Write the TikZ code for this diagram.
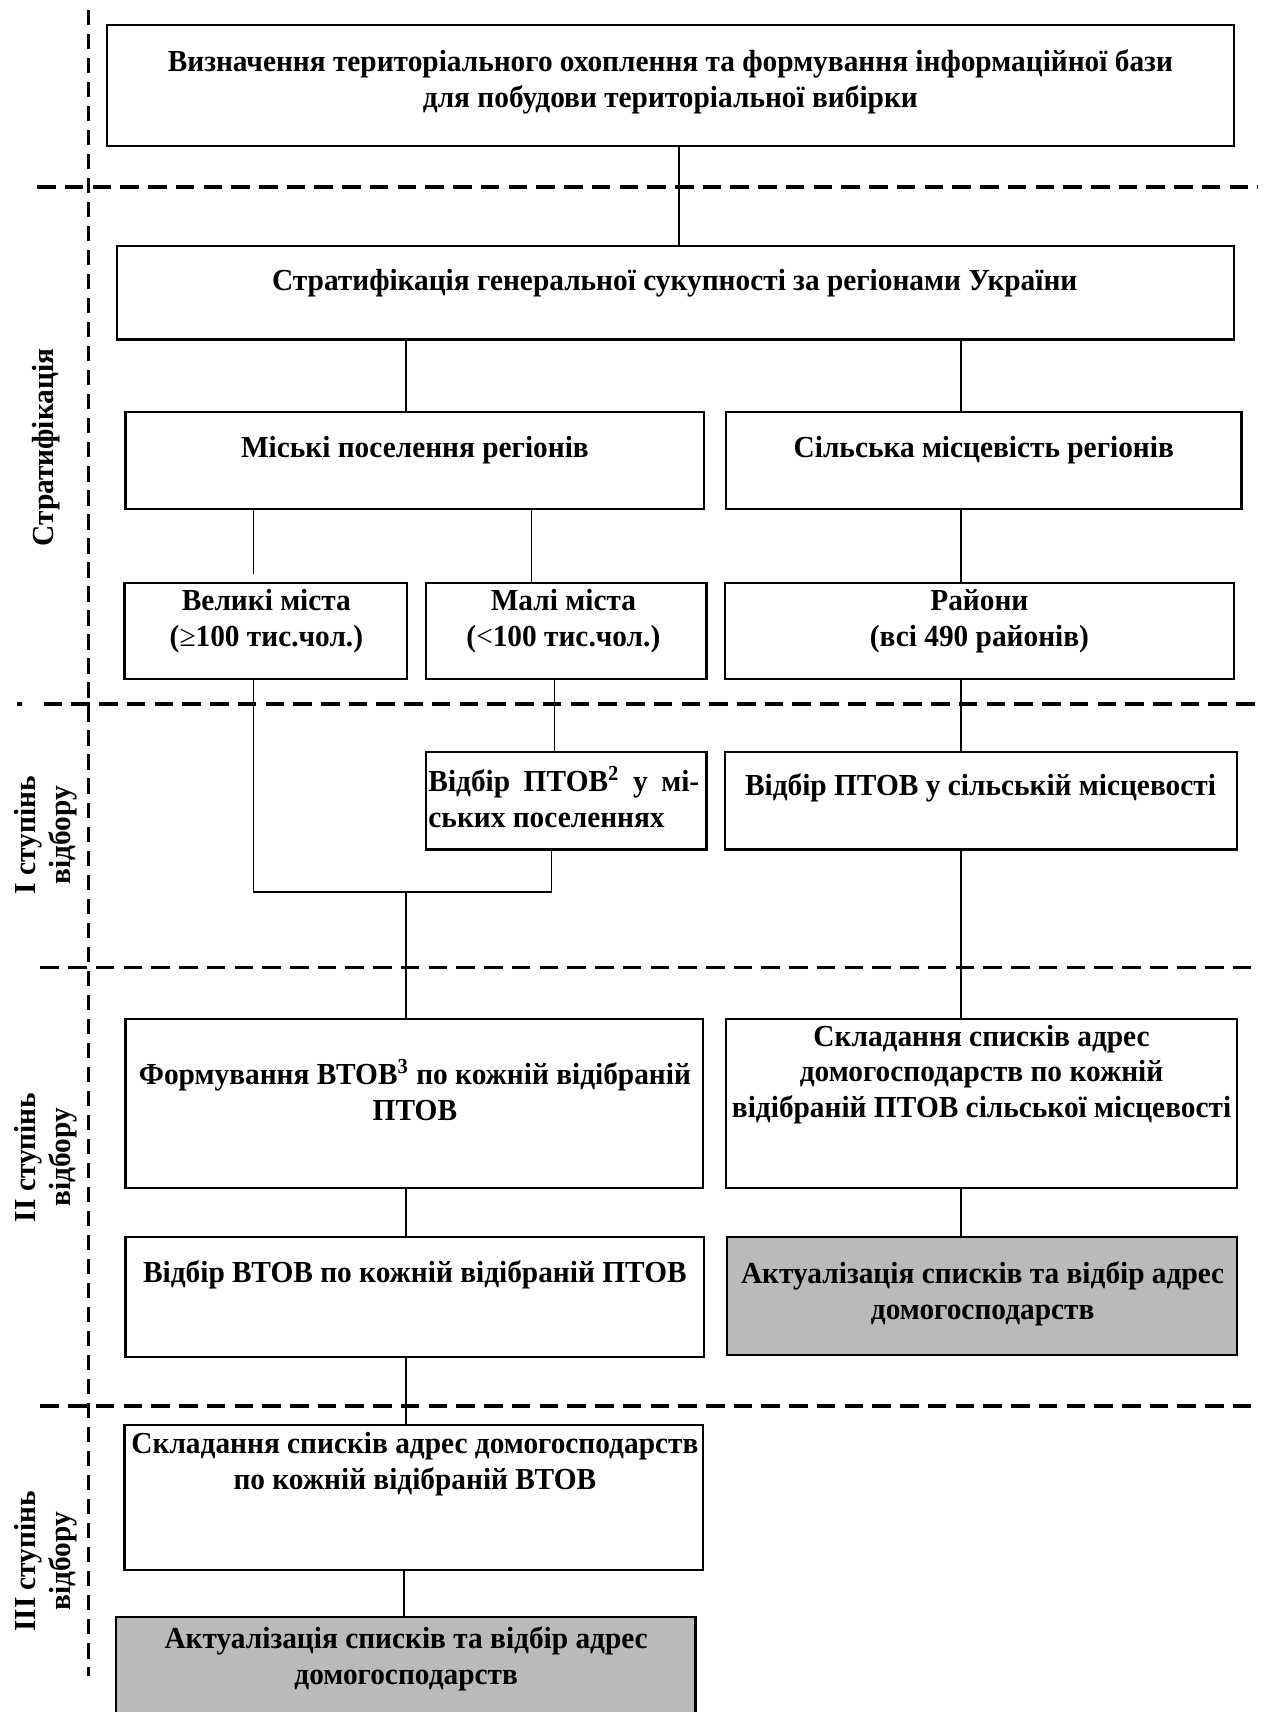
\documentclass[tikz,border=0pt]{standalone}
\usepackage{fontspec}
\setmainfont{Liberation Serif}[FakeStretch=0.96]
\usetikzlibrary{fit}
\tikzset{
  box/.style={draw, line width=1pt, inner sep=0pt},
  shadebox/.style={box, fill=black!27},
  txt/.style={font=\bfseries\fontsize{14}{16.3}\selectfont, align=center, inner sep=0pt},
  side/.style={txt, rotate=90},
  conn/.style={line width=0.7pt},
  vdash/.style={line width=1.6pt, dash pattern=on 7pt off 4pt},
  hdash/.style={line width=1.7pt, dash pattern=on 8.5pt off 4.2pt},
}
\begin{document}
\begin{tikzpicture}[x=0.5pt,y=-0.5pt]
\useasboundingbox (0,0) rectangle (1162,1568);
\clip (0,0) rectangle (1162,1568);

% guide lines
\draw[vdash] (81,9) -- (81,1535);
\draw[hdash] (34,171) -- (1152,171);
\draw[line width=1.7pt] (16,645) -- (20,645);
\draw[hdash] (40,645) -- (1150,645);
\draw[hdash] (37,886) -- (1150,886);
\draw[hdash] (37,1288) -- (1150,1288);

% boxes
\node[box, fit={(98,23) (1130,134)}] (b1) {};
\node[box, fit={(107,225) (1130,311)}] (b2) {};
\node[box, fit={(115,377) (645,466)}] (b3) {};
\node[box, fit={(665,377) (1137,466)}] (b4) {};
\node[box, fit={(114,534) (373,622)}] (b5) {};
\node[box, fit={(390,534) (647,622)}] (b6) {};
\node[box, fit={(664,534) (1130,622)}] (b7) {};
\node[box, fit={(390,689) (647,778)}] (b8) {};
\node[box, fit={(664,689) (1133,778)}] (b9) {};
\node[box, fit={(115,933) (644,1088)}] (b10) {};
\node[box, fit={(665,933) (1133,1088)}] (b11) {};
\node[box, fit={(115,1133) (645,1243)}] (b12) {};
\node[shadebox, fit={(666,1133) (1133,1241)}] (b13) {};
\node[box, fit={(114,1305) (644,1438)}] (b14) {};
\node[shadebox, fit={(106,1481) (637,1580)}] (b15) {};

% texts
\node[txt] (t1) at (614,75) {Визначення територіального охоплення та формування інформаційної бази\\для побудови територіальної вибірки};
\node[txt] (t2) at (618,259) {Стратифікація генеральної сукупності за регіонами України};
\node[txt] (t3) at (380,412) {Міські поселення регіонів};
\node[txt] (t4) at (901,412) {Сільська місцевість регіонів};
\node[txt] (t5) at (244,569) {Великі міста\\({\mdseries ≥}100 тис.чол.)};
\node[txt] (t6) at (516,569) {Малі міста\\({\mdseries <}100 тис.чол.)};
\node[txt] (t7) at (897,569) {Райони\\(всі 490 районів)};
\node[txt, align=justify, text width=124pt, anchor=west] (t8) at (392,730) {Відбір ПТОВ\textsuperscript{2} у мі-\linebreak ських поселеннях};
\node[txt] (t9) at (898,722) {Відбір ПТОВ у сільській місцевості};
\node[txt] (t10) at (380,998) {Формування ВТОВ\textsuperscript{3} по кожній відібраній\\ПТОВ};
\node[txt] (t11) at (899,984) {Складання списків адрес\\домогосподарств по кожній\\відібраній ПТОВ сільської місцевості};
\node[txt] (t12) at (380,1168) {Відбір ВТОВ по кожній відібраній ПТОВ};
\node[txt] (t13) at (900,1185) {Актуалізація списків та відбір адрес\\домогосподарств};
\node[txt] (t14) at (380,1341) {Складання списків адрес домогосподарств\\по кожній відібраній ВТОВ};
\node[txt] (t15) at (372,1519) {Актуалізація списків та відбір адрес\\домогосподарств};

% side labels
\node[side] (s1) at (42,410) {Стратифікація};
\node[side] (s2) at (42,765) {I ступінь\\відбору};
\node[side] (s3) at (42,1060) {II ступінь\\відбору};
\node[side] (s4) at (42,1430) {III ступінь\\відбору};

% connector helpers
\coordinate (xa) at (622,0);
\coordinate (xb) at (372,0);
\coordinate (xc) at (880,0);
\coordinate (xe) at (487,0);
\coordinate (xf) at (508,0);
\coordinate (xh) at (370,0);
\coordinate (j1) at (232,817);
\coordinate (j2) at (505,817);
\coordinate (g1) at (232,526);

% connectors
\draw[conn] (b1.south -| xa) -- (b2.north -| xa);
\draw[conn] (b2.south -| xb) -- (b3.north -| xb);
\draw[conn] (b2.south -| xc) -- (b4.north -| xc);
\draw[conn] (b3.south -| g1) -- (g1);
\draw[conn] (b3.south -| xe) -- (b6.north -| xe);
\draw[conn] (b4.south -| xc) -- (b7.north -| xc);
\draw[conn] (b5.south -| j1) -- (j1) -- (j2) -- (b8.south -| j2);
\draw[conn] (b6.south -| xf) -- (b8.north -| xf);
\draw[conn] (j1 -| xb) -- (b10.north -| xb);
\draw[conn] (b7.south -| xc) -- (b9.north -| xc);
\draw[conn] (b9.south -| xc) -- (b11.north -| xc);
\draw[conn] (b10.south -| xb) -- (b12.north -| xb);
\draw[conn] (b11.south -| xc) -- (b13.north -| xc);
\draw[conn] (b12.south -| xb) -- (b14.north -| xb);
\draw[conn] (b14.south -| xh) -- (b15.north -| xh);
\end{tikzpicture}
\end{document}
